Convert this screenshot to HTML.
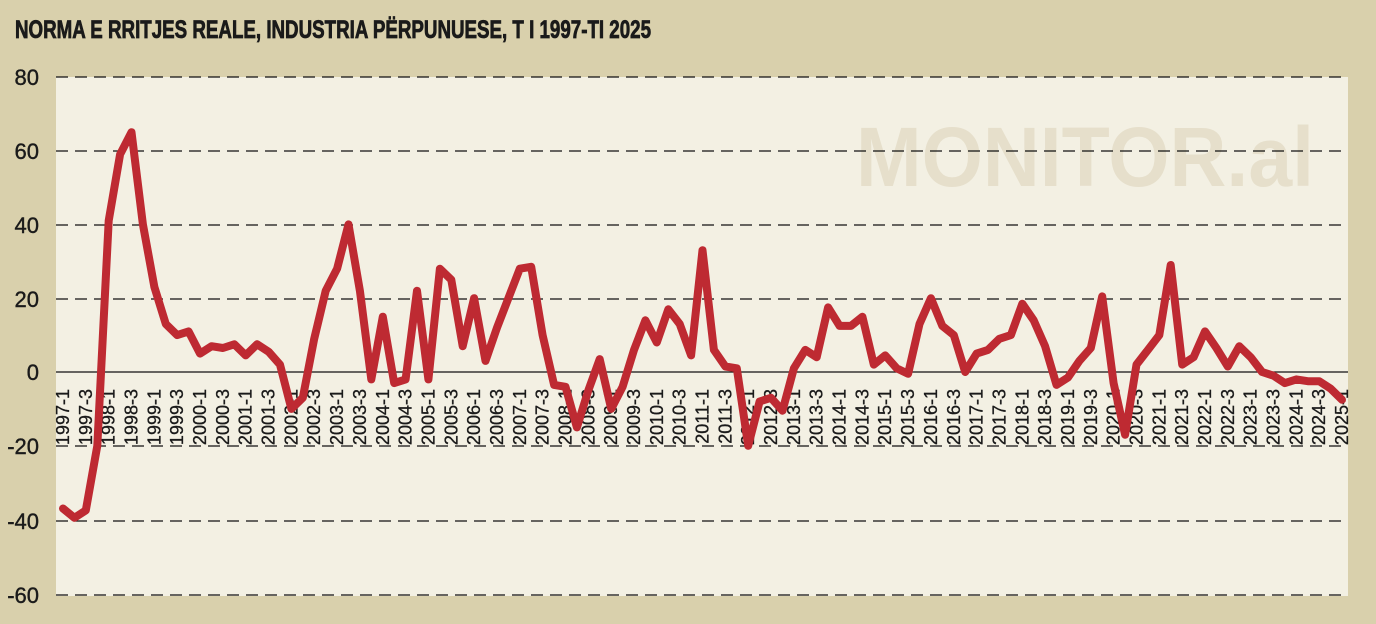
<!DOCTYPE html>
<html><head><meta charset="utf-8"><style>
html,body{margin:0;padding:0;background:#d9d0ac;}
svg{display:block;}
.t{font-family:"Liberation Sans Narrow","Liberation Sans",sans-serif;fill:#1a1a1a;}
</style></head><body>
<svg width="1376" height="624" viewBox="0 0 1376 624" xmlns="http://www.w3.org/2000/svg">
<rect width="1376" height="624" fill="#d9d0ac"/>
<text x="15" y="38" class="t" font-weight="bold" font-size="25" textLength="636" lengthAdjust="spacingAndGlyphs" stroke="#1a1a1a" stroke-width="0.8">NORMA E RRITJES REALE, INDUSTRIA PËRPUNUESE, T I 1997-TI 2025</text>
<rect x="56" y="77" width="1292" height="519" fill="#f3f0e3"/>
<text x="856" y="186" font-family="Liberation Sans,sans-serif" font-weight="bold" font-size="84" fill="#e6dfcb" textLength="458" lengthAdjust="spacingAndGlyphs">MONITOR.al</text>
<g stroke="#111" stroke-width="1.3" stroke-dasharray="12,7">
<line x1="56" y1="77" x2="1348" y2="77"/>
<line x1="56" y1="151" x2="1348" y2="151"/>
<line x1="56" y1="225" x2="1348" y2="225"/>
<line x1="56" y1="299" x2="1348" y2="299"/>
<line x1="56" y1="446" x2="1348" y2="446"/>
<line x1="56" y1="521" x2="1348" y2="521"/>
<line x1="56" y1="595" x2="1348" y2="595"/>
</g>
<line x1="56" y1="372" x2="1348" y2="372" stroke="#111" stroke-width="1.3"/>
<g class="t" font-size="22" text-anchor="end" stroke="#1a1a1a" stroke-width="0.4">
<text x="39" y="85">80</text><text x="39" y="159">60</text><text x="39" y="233">40</text>
<text x="39" y="307">20</text><text x="39" y="380">0</text><text x="39" y="454">-20</text>
<text x="39" y="529">-40</text><text x="39" y="603">-60</text>
</g>
<g class="t" font-size="18" text-anchor="end" stroke="#1a1a1a" stroke-width="0.3">
<text transform="translate(69,389) rotate(-90)">1997-1</text>
<text transform="translate(91.8,389) rotate(-90)">1997-3</text>
<text transform="translate(114.7,389) rotate(-90)">1998-1</text>
<text transform="translate(137.5,389) rotate(-90)">1998-3</text>
<text transform="translate(160.4,389) rotate(-90)">1999-1</text>
<text transform="translate(183.2,389) rotate(-90)">1999-3</text>
<text transform="translate(206,389) rotate(-90)">2000-1</text>
<text transform="translate(228.9,389) rotate(-90)">2000-3</text>
<text transform="translate(251.7,389) rotate(-90)">2001-1</text>
<text transform="translate(274.6,389) rotate(-90)">2001-3</text>
<text transform="translate(297.4,389) rotate(-90)">2002-1</text>
<text transform="translate(320.2,389) rotate(-90)">2002-3</text>
<text transform="translate(343.1,389) rotate(-90)">2003-1</text>
<text transform="translate(365.9,389) rotate(-90)">2003-3</text>
<text transform="translate(388.8,389) rotate(-90)">2004-1</text>
<text transform="translate(411.6,389) rotate(-90)">2004-3</text>
<text transform="translate(434.4,389) rotate(-90)">2005-1</text>
<text transform="translate(457.3,389) rotate(-90)">2005-3</text>
<text transform="translate(480.1,389) rotate(-90)">2006-1</text>
<text transform="translate(503,389) rotate(-90)">2006-3</text>
<text transform="translate(525.8,389) rotate(-90)">2007-1</text>
<text transform="translate(548.6,389) rotate(-90)">2007-3</text>
<text transform="translate(571.5,389) rotate(-90)">2008-1</text>
<text transform="translate(594.3,389) rotate(-90)">2008-3</text>
<text transform="translate(617.2,389) rotate(-90)">2009-1</text>
<text transform="translate(640,389) rotate(-90)">2009-3</text>
<text transform="translate(662.8,389) rotate(-90)">2010-1</text>
<text transform="translate(685.7,389) rotate(-90)">2010-3</text>
<text transform="translate(708.5,389) rotate(-90)">2011-1</text>
<text transform="translate(731.4,389) rotate(-90)">2011-3</text>
<text transform="translate(754.2,389) rotate(-90)">2012-1</text>
<text transform="translate(777,389) rotate(-90)">2012-3</text>
<text transform="translate(799.9,389) rotate(-90)">2013-1</text>
<text transform="translate(822.7,389) rotate(-90)">2013-3</text>
<text transform="translate(845.6,389) rotate(-90)">2014-1</text>
<text transform="translate(868.4,389) rotate(-90)">2014-3</text>
<text transform="translate(891.2,389) rotate(-90)">2015-1</text>
<text transform="translate(914.1,389) rotate(-90)">2015-3</text>
<text transform="translate(936.9,389) rotate(-90)">2016-1</text>
<text transform="translate(959.8,389) rotate(-90)">2016-3</text>
<text transform="translate(982.6,389) rotate(-90)">2017-1</text>
<text transform="translate(1005.4,389) rotate(-90)">2017-3</text>
<text transform="translate(1028.3,389) rotate(-90)">2018-1</text>
<text transform="translate(1051.1,389) rotate(-90)">2018-3</text>
<text transform="translate(1074,389) rotate(-90)">2019-1</text>
<text transform="translate(1096.8,389) rotate(-90)">2019-3</text>
<text transform="translate(1119.6,389) rotate(-90)">2020-1</text>
<text transform="translate(1142.5,389) rotate(-90)">2020-3</text>
<text transform="translate(1165.3,389) rotate(-90)">2021-1</text>
<text transform="translate(1188.2,389) rotate(-90)">2021-3</text>
<text transform="translate(1211,389) rotate(-90)">2022-1</text>
<text transform="translate(1233.8,389) rotate(-90)">2022-3</text>
<text transform="translate(1256.7,389) rotate(-90)">2023-1</text>
<text transform="translate(1279.5,389) rotate(-90)">2023-3</text>
<text transform="translate(1302.4,389) rotate(-90)">2024-1</text>
<text transform="translate(1325.2,389) rotate(-90)">2024-3</text>
<text transform="translate(1348,389) rotate(-90)">2025-1</text>
</g>
<polyline fill="none" stroke="#be2a32" stroke-width="8" stroke-linejoin="round" stroke-linecap="round" points="63,508.5 74.4,517.8 85.8,510.4 97.3,445.8 108.7,220.7 120.1,154.3 131.5,132.2 142.9,224.4 154.4,287.1 165.8,324 177.2,335.1 188.6,331.4 200,353.6 211.5,346.2 222.9,348 234.3,344.3 245.7,355.4 257.1,344.3 268.6,351.7 280,364.6 291.4,408.9 302.8,397.8 314.2,338.8 325.7,290.8 337.1,268.7 348.5,224.4 359.9,290.8 371.3,379.4 382.8,316.7 394.2,383.1 405.6,379.4 417,290.8 428.4,379.4 439.9,268.7 451.3,279.8 462.7,346.2 474.1,298.2 485.5,360.9 497,327.7 508.4,298.2 519.8,268.7 531.2,266.8 542.6,335.1 554.1,384.9 565.5,386.8 576.9,427.4 588.3,390.5 599.7,359.1 611.2,408.9 622.6,386.8 634,349.9 645.4,320.3 656.8,342.5 668.3,309.3 679.7,324 691.1,355.4 702.5,250.2 713.9,349.9 725.4,366.5 736.8,368.3 748.2,445.8 759.6,401.5 771,397.8 782.5,410.7 793.9,368.3 805.3,349.9 816.7,357.2 828.1,307.4 839.6,325.9 851,325.9 862.4,316.7 873.8,364.6 885.2,355.4 896.7,368.3 908.1,373.8 919.5,324 930.9,298.2 942.3,325.9 953.8,335.1 965.2,372 976.6,353.6 988,349.9 999.4,338.8 1010.9,335.1 1022.3,303.7 1033.7,320.3 1045.1,346.2 1056.5,384.9 1068,377.5 1079.4,360.9 1090.8,348 1102.2,296.4 1113.6,383.1 1125.1,434.7 1136.5,364.6 1147.9,349.9 1159.3,335.1 1170.7,265 1182.2,364.6 1193.6,357.2 1205,331.4 1216.4,348 1227.8,366.5 1239.3,346.2 1250.7,357.2 1262.1,372 1273.5,375.7 1284.9,383.1 1296.4,379.4 1307.8,381.2 1319.2,381.2 1330.6,388.6 1342,399.7"/>
</svg>
</body></html>
